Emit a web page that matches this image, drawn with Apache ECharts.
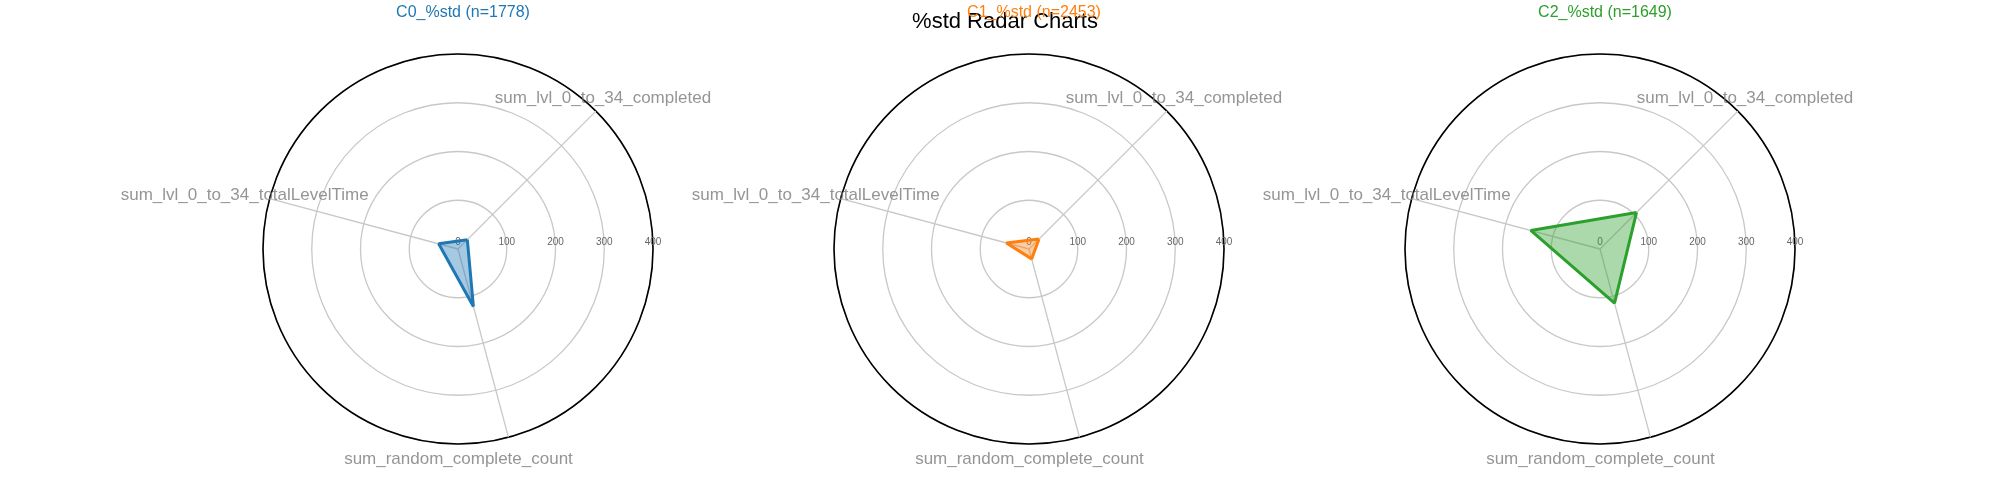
<!DOCTYPE html>
<html>
<head>
<meta charset="utf-8">
<script src="https://cdn.jsdelivr.net/npm/echarts@6/dist/echarts.min.js"></script>
<style>html,body{margin:0;padding:0;background:#fff}#main{width:2000px;height:500px}</style>
</head>
<body>
<div id="main"></div>
<script>
// 数据
var axisNames = ['sum_lvl_0_to_34_completed', 'sum_lvl_0_to_34_totalLevelTime', 'sum_random_complete_count'];
var axisAngles = [45, 165, 285];
var clusterTitles = ['C0_%std (n=1778)', 'C1_%std (n=2453)', 'C2_%std (n=1649)'];
var colors = ['#1f77b4', '#ff7f0e', '#2ca02c'];
var c0Values = [27, 41, 122];
var c1Values = [29, 48, 21];
var c2Values = [106, 147, 115];
var radiusTicks = [0, 100, 200, 300, 400];

var allValues = [c0Values, c1Values, c2Values];
var centersX = [458, 1029, 1600];
var centerY = 249;
var R = 195;
// 轴名称偏移（像素）
var nameOffsets = [[7, -13], [-25, -3], [-50, 22]];

var chart = echarts.init(document.getElementById('main'));
var polar = [], angleAxis = [], radiusAxis = [], series = [], titles = [];

titles.push({
    text: '%std Radar Charts', left: 1000, top: 6, textAlign: 'center',
    textStyle: {fontSize: 22, fontWeight: 'normal', color: '#000', fontFamily: 'Liberation Sans'}
});

for (var i = 0; i < 3; i++) {
    polar.push({center: [centersX[i], centerY], radius: R});
    angleAxis.push({
        polarIndex: i, type: 'value', min: 0, max: 360, startAngle: 0, clockwise: false,
        axisLine: {lineStyle: {color: '#000', width: 1.6}},
        axisTick: {show: false}, axisLabel: {show: false}, splitLine: {show: false}
    });
    radiusAxis.push({
        polarIndex: i, type: 'value', min: 0, max: 400, interval: 100,
        axisLine: {show: false}, axisTick: {show: false},
        axisLabel: {color: '#666', fontSize: 10, fontFamily: 'Liberation Sans', margin: 2},
        splitLine: {lineStyle: {color: '#c8c8c8', width: 1.3}}
    });
    titles.push({
        text: clusterTitles[i], left: centersX[i], top: 0, textAlign: 'center',
        textStyle: {fontSize: 16, fontWeight: 'normal', color: colors[i], fontFamily: 'Liberation Sans'}
    });
    // 辐射轴线
    for (var k = 0; k < axisAngles.length; k++) {
        series.push({
            type: 'line', coordinateSystem: 'polar', polarIndex: i, silent: true,
            symbol: 'none', lineStyle: {color: '#c8c8c8', width: 1.3},
            data: [[0, axisAngles[k]], [400, axisAngles[k]]], z: 1
        });
    }
    // 轴名称
    series.push({
        type: 'scatter', coordinateSystem: 'polar', polarIndex: i, symbolSize: 0, silent: true,
        data: axisAngles.map(function (a, k) {
            return {
                value: [400, a],
                label: {show: true, formatter: axisNames[k], offset: nameOffsets[k],
                    color: '#7a7a7a', fontSize: 17, fontFamily: 'Liberation Sans', position: 'inside'}
            };
        })
    });
    // 数据多边形
    var vals = allValues[i];
    var pts = vals.map(function (v, k) { return [v, axisAngles[k]]; });
    pts.push([vals[0], axisAngles[0]]);
    series.push({
        type: 'line', coordinateSystem: 'polar', polarIndex: i, symbol: 'none',
        lineStyle: {color: colors[i], width: 3},
        areaStyle: {color: colors[i], opacity: 0.4},
        data: pts, z: 3
    });
}

chart.setOption({
    animation: false,
    title: titles,
    polar: polar,
    angleAxis: angleAxis,
    radiusAxis: radiusAxis,
    series: series
});
</script>
</body>
</html>
